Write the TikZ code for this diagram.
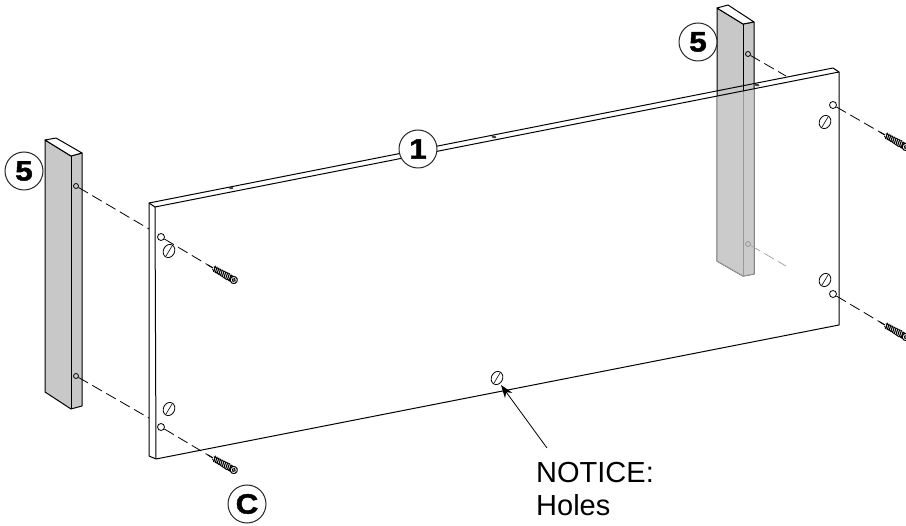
\documentclass[tikz,border=0pt]{standalone}
\usepackage{fontspec}
\setmainfont{Liberation Sans}
\newfontfamily\calloutfont[FakeStretch=1.12,BoldFeatures={FakeBold=1.6,FakeStretch=1.12}]{Liberation Sans}
\usetikzlibrary{arrows.meta}
\definecolor{postgray}{RGB}{200,200,200}
\tikzstyle{callout} = [circle, draw=black!85, line width=1pt, fill=white, minimum size=38pt, inner sep=0pt, font=\calloutfont\fontsize{28}{30}\selectfont\bfseries]
\tikzstyle{hole} = [circle, draw=black, line width=0.8pt, fill=white, minimum size=7pt, inner sep=0pt]
\tikzstyle{plug} = [circle, draw=black, line width=0.8pt, fill=postgray, minimum size=5pt, inner sep=0pt]
\tikzstyle{pin} = [coordinate]
\tikzstyle{guide} = [line width=0.8pt, dash pattern=on 11pt off 5pt]
\tikzstyle{edge} = [line width=1pt, line join=round]
\tikzstyle{label} = [anchor=base west, inner sep=0pt, font=\fontsize{29}{33}\selectfont]
\tikzset{
    screw/.pic={
        \draw [line width=1pt] (-6,0) -- (2,0);
        \fill [white] (0,-3.4) rectangle (24,3.4);
        \draw [line width=0.7pt] (0,-1.5) -- (18,-3.4) (0,1.5) -- (18,3.4);
        \foreach \i in {1,3,...,19}
        {
            \draw [line width=1.1pt] (\i,-3.2) -- (\i+1.4,3.2);
        }
        \draw [line width=1.6pt] (19,-2.5) -- (23,-2.5) (19,2.5) -- (23,2.5);
        \draw [line width=1pt, fill=white] (24,0) circle (3.6);
        \draw [line width=1pt] (24,0) circle (1.6);
    },
    slot/.pic={
        \draw [line width=0.8pt, fill=white, rotate=-25] (0,0) ellipse [x radius=5.6, y radius=6.8];
        \draw [line width=0.6pt] (-3,5) -- (3.4,-5.6);
    },
    mark/.pic={
        \fill [black!75, rotate=-11] (0,0) ellipse [x radius=2.4, y radius=1.2];
    }
}

\begin{document}
\begin{tikzpicture}[x=1pt, y=-1pt]
    \useasboundingbox (0,0) rectangle (906,526);

    % left post
    \filldraw [edge, fill=postgray] (45,140) -- (71,156) -- (82,153) -- (82,406) -- (71,409) -- (45,392) -- cycle;
    \draw [edge, fill=white] (45,140) -- (56,138) -- (82,153) -- (71,156) -- cycle;
    \draw [edge] (71,156) -- (71,409);

    % right post
    \filldraw [edge, fill=postgray] (717,8) -- (743,24) -- (754,22) -- (754,274) -- (743,276) -- (717,261) -- cycle;
    \draw [edge, fill=white] (717,8) -- (728,5) -- (754,22) -- (743,24) -- cycle;
    \draw [edge] (743,24) -- (743,276);

    \node (plugA) [plug] at (76,186) {};
    \node (plugB) [plug] at (76,376) {};
    \node (plugC) [plug] at (748,54) {};

    \node (stopA) [pin] at (149,229) {};
    \node (stopB) [pin] at (149,418) {};
    \node (stopC) [pin] at (786,76) {};
    \node (stopD) [pin] at (786,266) {};

    \draw [guide] (plugA) -- (stopA);
    \draw [guide] (plugB) -- (stopB);
    \draw [guide] (plugC) -- (stopC);

    % the post shows through the panel
    \begin{scope}
        \clip (155,207) -- (839,72) -- (839,325) -- (156,459) -- cycle;
        \filldraw [edge, draw=black!40, fill=postgray!95] (717,8) -- (743,24) -- (754,22) -- (754,274) -- (743,276) -- (717,261) -- cycle;
        \draw [edge, draw=black!40] (743,24) -- (743,276);
    \end{scope}
    \node (plugD) [plug, draw=black!40] at (748,244) {};
    \draw [guide, draw=black!35] (plugD) -- (stopD);

    % panel
    \draw [edge] (149,203) -- (833,68) -- (839,72) -- (839,325) -- (156,459) -- (149,456) -- cycle;
    \draw [edge] (149,203) -- (155,207) -- (156,459);
    \draw [edge] (155,207) -- (839,72);

    \pic at (231,188) {mark};
    \pic at (494,137) {mark};
    \pic at (757,85) {mark};

    \pic at (169,251) {slot};
    \pic at (169,409) {slot};
    \pic at (497,378) {slot};
    \pic at (825,122) {slot};
    \pic at (825,280) {slot};

    \node (holeA) [hole] at (161,237) {};
    \node (holeB) [hole] at (161,427) {};
    \node (holeC) [hole] at (833,105) {};
    \node (holeD) [hole] at (833,294) {};

    \node (tipA) [pin] at (213,268) {};
    \node (tipB) [pin] at (213,458) {};
    \node (tipC) [pin] at (885,135) {};
    \node (tipD) [pin] at (885,325) {};

    \draw [guide] (holeA) -- (tipA);
    \draw [guide] (holeB) -- (tipB);
    \draw [guide] (holeC) -- (tipC);
    \draw [guide] (holeD) -- (tipD);

    \pic [rotate=-30] at (tipA) {screw};
    \pic [rotate=-30] at (tipB) {screw};
    \pic [rotate=-30] at (tipC) {screw};
    \pic [rotate=-30] at (tipD) {screw};

    \node (fiveA) [callout] at (24,171) {5};
    \node (fiveB) [callout] at (698,42) {5};
    \node (one) [callout] at (418,149) {1};
    \node (screwC) [callout] at (247,504) {C};

    \node (slotE) [pin] at (501,385) {};
    \node (notice) [label] at (536,483) {NOTICE:};
    \node (holes) [label] at (536,516) {Holes};
    \node (start) [pin] at (547,448) {};
    \draw [-{Stealth[length=13pt, width=9pt]}, line width=0.8pt] (start) -- (slotE);
\end{tikzpicture}
\end{document}
